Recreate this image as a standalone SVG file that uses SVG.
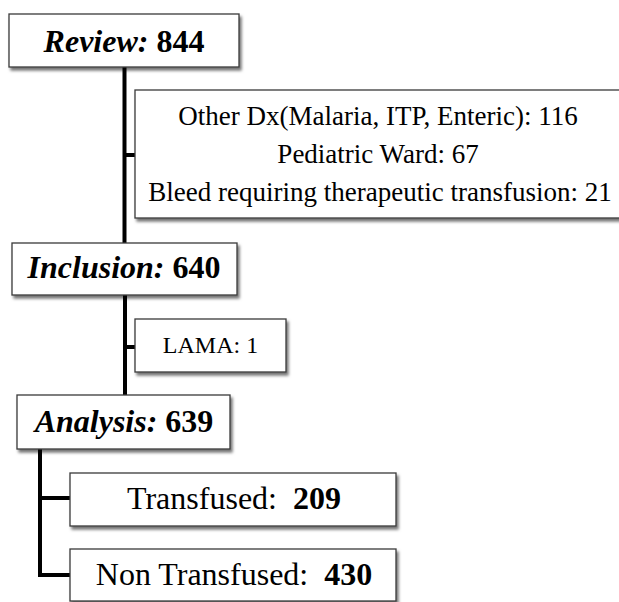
<svg xmlns="http://www.w3.org/2000/svg" width="619" height="602" viewBox="0 0 619 602">
  <defs>
    <filter id="sh" x="-10%" y="-10%" width="130%" height="140%">
      <feDropShadow dx="2" dy="3" stdDeviation="1.6" flood-color="#000" flood-opacity="0.55"/>
    </filter>
    <style>
      .box { fill: #fff; stroke: #3a3a3a; stroke-width: 1.3; filter: url(#sh); }
      .t { font-family: "Liberation Serif", "Times New Roman", serif; fill: #000; }
      .h { font-size: 32px; font-weight: bold; }
      .hi { font-style: italic; }
      .conn { stroke: #000; stroke-width: 4; fill: none; stroke-linejoin: miter; }
    </style>
  </defs>
  <rect width="619" height="602" fill="#fff"/>

  <g id="connectors">
    <line class="conn" x1="124.5" y1="67" x2="124.5" y2="243"/>
    <line class="conn" x1="124.5" y1="155" x2="135" y2="155"/>
    <line class="conn" x1="125" y1="295" x2="125" y2="395"/>
    <line class="conn" x1="125" y1="347" x2="135" y2="347"/>
    <polyline class="conn" points="40,449 40,575 70,575"/>
    <line class="conn" x1="40" y1="498" x2="70" y2="498"/>
  </g>

  <g id="review">
    <rect class="box" x="9" y="14" width="230" height="53"/>
    <text class="t h" x="124" y="52" text-anchor="middle"><tspan class="hi">Review:</tspan> 844</text>
  </g>

  <g id="excluded1">
    <rect class="box" x="135" y="90" width="500" height="128"/>
    <text class="t" font-size="27" x="378" y="125" text-anchor="middle">Other Dx(Malaria, ITP, Enteric): 116</text>
    <text class="t" font-size="27" x="378" y="163" text-anchor="middle">Pediatric Ward: 67</text>
    <text class="t" font-size="27" x="380" y="201" text-anchor="middle">Bleed requiring therapeutic transfusion: 21</text>
  </g>

  <g id="inclusion">
    <rect class="box" x="12" y="243" width="225" height="52"/>
    <text class="t h" x="124" y="278" text-anchor="middle"><tspan class="hi">Inclusion:</tspan> 640</text>
  </g>

  <g id="lama">
    <rect class="box" x="135" y="319" width="151" height="53"/>
    <text class="t" font-size="24" x="210.5" y="353" text-anchor="middle">LAMA: 1</text>
  </g>

  <g id="analysis">
    <rect class="box" x="17" y="395" width="213" height="54"/>
    <text class="t h" x="124" y="432" text-anchor="middle"><tspan class="hi">Analysis:</tspan> 639</text>
  </g>

  <g id="transfused">
    <rect class="box" x="70" y="473" width="326" height="53"/>
    <text class="t" font-size="32" x="234" y="509" text-anchor="middle" xml:space="preserve">Transfused:  <tspan font-weight="bold">209</tspan></text>
  </g>

  <g id="nontransfused">
    <rect class="box" x="70" y="549" width="326" height="52"/>
    <text class="t" font-size="32" x="234" y="585" text-anchor="middle" xml:space="preserve">Non Transfused:  <tspan font-weight="bold">430</tspan></text>
  </g>
</svg>
